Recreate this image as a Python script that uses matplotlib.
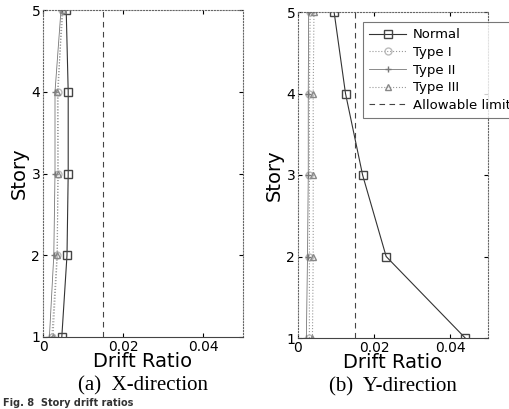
import numpy as np
import matplotlib.pyplot as plt

# story levels
stories = [1, 2, 3, 4, 5]
limit = 0.015

# X-direction drift ratios
x_normal = [0.0047, 0.0060, 0.0063, 0.0063, 0.0058]
x_type1 = [0.0022, 0.0035, 0.0038, 0.0038, 0.0047]
x_type2 = [0.0016, 0.0027, 0.0030, 0.0030, 0.0045]
x_type3 = [0.0025, 0.0036, 0.0037, 0.0036, 0.0050]

# Y-direction drift ratios
y_normal = [0.0440, 0.0232, 0.0170, 0.0125, 0.0095]
y_type1 = [0.0030, 0.0030, 0.0030, 0.0030, 0.0032]
y_type2 = [0.0022, 0.0025, 0.0027, 0.0027, 0.0028]
y_type3 = [0.0038, 0.0040, 0.0040, 0.0040, 0.0042]

captions = ['(a)  X-direction', '(b)  Y-direction']

fig = plt.figure(figsize=(5.1, 4.09), dpi=100)
ax1 = fig.add_axes([43 / 510, 1 - 337 / 409, 200 / 510, 327 / 409])
ax2 = fig.add_axes([298 / 510, 1 - 338 / 409, 190 / 510, 326 / 409])

for ax, normal, t1, t2, t3, cap in [(ax1, x_normal, x_type1, x_type2, x_type3, captions[0]),
                                     (ax2, y_normal, y_type1, y_type2, y_type3, captions[1])]:
    ax.plot(normal, stories, color='#333333', marker='s', markersize=6, mfc='none',
            mec='#444444', linewidth=0.8, label='Normal')
    ax.plot(t1, stories, color='#999999', linestyle=':', marker='o', markersize=5, mfc='none',
            mec='#bbbbbb', linewidth=0.8, label='Type I')
    ax.plot(t2, stories, color='#777777', linestyle='-', marker='+', markersize=5,
            linewidth=0.6, label='Type II')
    ax.plot(t3, stories, color='#999999', linestyle=':', marker='^', markersize=5, mfc='none',
            mec='#888888', linewidth=0.8, label='Type III')
    ax.axvline(limit, color='#444444', linestyle=(0, (5, 4)), linewidth=0.8, label='Allowable limit')
    ax.set_xlim(0, 0.05)
    ax.set_ylim(1, 5)
    ax.set_xticks([0, 0.02, 0.04])
    ax.set_xticklabels(['0', '0.02', '0.04'])
    ax.set_yticks(stories)
    ax.tick_params(labelsize=10, length=3, direction='in', right=True, top=True, pad=2)
    for s in ax.spines.values():
        s.set_linestyle(':')
        s.set_color('#666666')
        s.set_linewidth(0.8)
    ax.spines['bottom'].set_linestyle('-')
    ax.spines['bottom'].set_color('#444444')
    ax.set_xlabel('Drift Ratio', fontsize=14, labelpad=-1)
    ax.set_ylabel('Story', fontsize=14, labelpad=2)
    ax.text(0.5, -0.12, cap, transform=ax.transAxes, ha='center', va='top',
            fontsize=15, family='Liberation Serif')

leg = ax2.legend(loc='upper left', bbox_to_anchor=(0.34, 0.97), fontsize=9.5, frameon=True,
                 fancybox=False, edgecolor='#555555', handlelength=2.8, borderpad=0.5,
                 labelspacing=0.35, handletextpad=0.5, borderaxespad=0)
leg.get_frame().set_linewidth(0.8)

fig.text(0.005, 0.5 / 409, 'Fig. 8  Story drift ratios', ha='left', va='bottom',
         fontsize=7, fontweight='bold', color='#333333')

fig.savefig('out.png', dpi=100)
